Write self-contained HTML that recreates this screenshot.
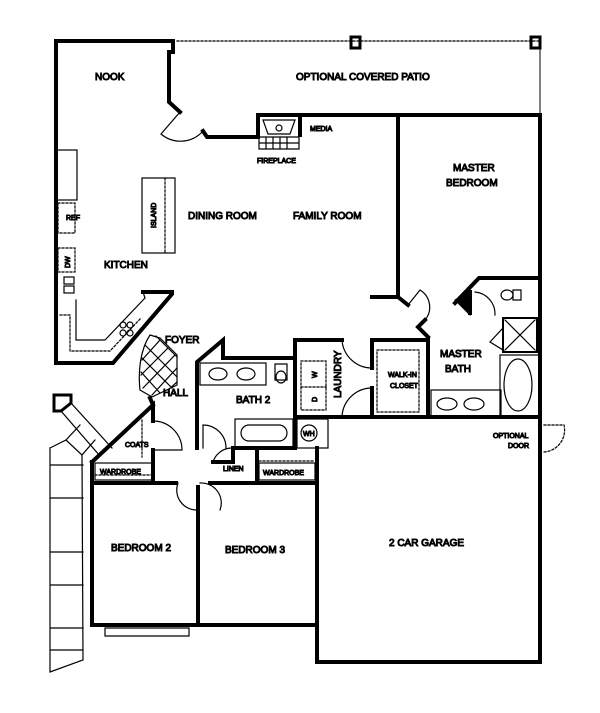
<!DOCTYPE html>
<html><head><meta charset="utf-8"><style>
html,body{margin:0;padding:0;background:#fff;}
svg{display:block;}
text{font-family:"Liberation Sans",sans-serif;font-size:10px;fill:#111;}
.s{font-size:7px;}
</style></head><body>
<svg width="600" height="713" viewBox="0 0 600 713" xmlns="http://www.w3.org/2000/svg">
<g fill="none" stroke="#000" stroke-linecap="square">
<!-- patio -->
<line x1="177" y1="41" x2="540" y2="41" stroke-width="1.2" stroke-dasharray="2,2"/>
<line x1="540" y1="41" x2="540" y2="115" stroke-width="1"/>
<rect x="351" y="37" width="9" height="11" stroke-width="3"/>
<rect x="531" y="37" width="9" height="11" stroke-width="3"/>
<!-- outer walls -->
<g stroke-width="4">
<polyline points="173,52 173,41 56,41 56,363 113,363 172,294 172,292 143,292"/>
<polyline points="169,52 169,102 180,112"/>
<polyline points="203,131 207,137 258,137 258,115 300,115 300,137 300,115 540,115 540,662 317,662 317,448"/>
<polyline points="398,115 398,297 372,297"/>
<polyline points="398,297 408,305"/>
<polyline points="92,462 92,625 317,625"/>
<line x1="198" y1="487" x2="198" y2="625"/>
<line x1="92" y1="483" x2="176" y2="483"/>
<line x1="210" y1="483" x2="317" y2="483"/>
<polyline points="92,462 153,405 153,421"/>
<line x1="153" y1="450" x2="153" y2="483"/>
<polyline points="153,405 150,398"/>
<polyline points="197,448 197,362 223,340 223,358 295,358"/>
<polyline points="295,340 295,448 233,448 233,462 213,462"/>
<line x1="257" y1="448" x2="257" y2="483"/>
<line x1="295" y1="340" x2="342" y2="340"/>
<line x1="295" y1="417" x2="540" y2="417"/>
<polyline points="372,388 372,417"/>
<polyline points="372,368 372,340 428,340 428,417"/>
<polyline points="428,337 418,327 425,320"/>
<polyline points="540,278 479,278 455,303"/>
<polyline points="470,292 470,313"/>
</g>
<path d="M455,300 L470,290 L470,315 Z" fill="#000" stroke-width="1"/>
<!-- fixtures -->
<g stroke-width="1.2">
<path d="M263,120 L295,120 L290,134 L268,134 Z"/>
<circle cx="279" cy="128" r="3"/>
<path d="M259,137 h40 v12 h-40 z M266,137 v12 M273,137 v12 M280,137 v12 M287,137 v12 M259,143 h40"/>
<rect x="142" y="178" width="33" height="75"/>
<line x1="165" y1="178" x2="165" y2="253" stroke-dasharray="2,2"/>
<rect x="56" y="150" width="21" height="50"/>
<rect x="58" y="203" width="17" height="30" stroke-dasharray="2,2"/>
<rect x="58" y="248" width="17" height="24" stroke-dasharray="2,2"/>
<rect x="64" y="277" width="10" height="7"/><rect x="64" y="286" width="10" height="7"/>
<polyline points="60,315 70,315 70,351 110,351 141,318" stroke-dasharray="2,2"/>
<polyline points="76,300 76,340 105,340 145,298 143,292"/>
<circle cx="123" cy="325" r="3"/><circle cx="130" cy="325" r="3"/><circle cx="123" cy="333" r="3"/><circle cx="130" cy="333" r="3"/>
<path d="M150,335 L160,338 L177,355 L177,385 L152,397 L140,390 C138,372 140,350 150,335 Z"/>
<path d="M145,345 L177,377 M142,358 L172,388 M141,372 L160,393 M156,336 L177,357 M160,340 L142,360 M168,348 L141,375 M175,355 L143,388 M177,368 L152,395 M177,382 L168,390" />
<path d="M180,112 L161,134 A30,30 0 0 0 203,131"/>
<path d="M408,305 L420,290 A20,20 0 0 1 425,320"/>
<rect x="200" y="363" width="66" height="22"/>
<ellipse cx="218" cy="374" rx="9" ry="6"/><ellipse cx="246" cy="374" rx="9" ry="6"/>
<path d="M275,364 h12 v16 h-12 z"/><ellipse cx="281" cy="377" rx="5" ry="6"/>
<rect x="235" y="419" width="58" height="28"/>
<rect x="241" y="425" width="46" height="16" rx="8"/>
<rect x="297" y="419" width="31" height="29"/><circle cx="309" cy="433" r="8"/>
<rect x="301" y="361" width="25" height="49" stroke-dasharray="2,2"/>
<line x1="301" y1="387" x2="326" y2="387" stroke-dasharray="2,2"/>
<path d="M342,340 A30,30 0 0 0 372,368 M342,417 A30,30 0 0 1 372,388"/>
<rect x="377" y="350" width="42" height="62" stroke-dasharray="2,2"/>
<rect x="431" y="390" width="70" height="27"/>
<ellipse cx="447" cy="404" rx="10" ry="6"/><ellipse cx="474" cy="404" rx="10" ry="6"/>
<rect x="500" y="355" width="40" height="62"/><ellipse cx="518" cy="385" rx="14" ry="26"/>
<rect x="503" y="318" width="34" height="34" stroke-width="2"/>
<path d="M505,320 L535,350 M535,320 L505,350"/>
<path d="M503,328 L490,342 L503,350"/>
<path d="M513,290 h8 v10 h-8 z"/><ellipse cx="507" cy="295" rx="6" ry="5"/>
<path d="M475,292 A22,22 0 0 1 495,315"/>
<path d="M153,450 h29 A29,29 0 0 0 153,421"/>
<line x1="142" y1="420" x2="142" y2="457" stroke-dasharray="2,2"/>
<rect x="95" y="463" width="59" height="17"/>
<line x1="95" y1="475" x2="154" y2="475" stroke-dasharray="2,2"/>
<rect x="259" y="463" width="56" height="17"/>
<line x1="259" y1="461" x2="315" y2="461" stroke-dasharray="2,2"/>
<path d="M213,462 A20,20 0 0 1 231,448"/>
<path d="M203,425 L203,448 M203,425 A23,23 0 0 1 226,448"/>
<path d="M178,483 A20,20 0 0 0 196,510 M200,483 A20,20 0 0 1 220,510"/>
<path d="M105,628 h84 v8 h-84 z"/>
<path d="M544,425 h20 M564,425 A22,22 0 0 1 544,452" stroke-dasharray="2,2"/>
<!-- porch -->
<path d="M54,395 h17 v8 l-10,8 h-7 z" stroke-width="3"/>
<path d="M71,403 L112,448 M61,411 L100,456 M80,425 L66,440 M95,440 L82,455"/>
<path d="M50,448 L66,440 L82,455 L83,660 L50,672 L50,448 M50,465 h33 M50,498 h33 M50,552 h33 M50,585 h33 M50,628 h33 M50,650 h33"/>
</g>
<g>
<text x="95" y="80">NOOK</text>
<text x="296" y="80">OPTIONAL COVERED PATIO</text>
<text x="310" y="131" class="s">MEDIA</text>
<text x="257" y="163" class="s">FIREPLACE</text>
<text x="453" y="171">MASTER</text>
<text x="446" y="186">BEDROOM</text>
<text x="188" y="219">DINING ROOM</text>
<text x="293" y="219">FAMILY ROOM</text>
<text x="104" y="268">KITCHEN</text>
<text x="0" y="0" class="s" transform="translate(156,228) rotate(-90)">ISLAND</text>
<text x="66" y="220" class="s">REF</text>
<text x="0" y="0" class="s" transform="translate(70,268) rotate(-90)">DW</text>
<text x="165" y="343">FOYER</text>
<text x="163" y="396">HALL</text>
<text x="236" y="403">BATH 2</text>
<text x="440" y="357">MASTER</text>
<text x="445" y="372">BATH</text>
<text x="388" y="377" class="s">WALK-IN</text>
<text x="390" y="388" class="s">CLOSET</text>
<text x="0" y="0" transform="translate(341,398) rotate(-90)">LAUNDRY</text>
<text x="0" y="0" class="s" transform="translate(317,378) rotate(-90)">W</text>
<text x="0" y="0" class="s" transform="translate(317,402) rotate(-90)">D</text>
<text x="303" y="436" class="s">WH</text>
<text x="125" y="447" class="s">COATS</text>
<text x="100" y="474" class="s">WARDROBE</text>
<text x="223" y="471" class="s">LINEN</text>
<text x="263" y="475" class="s">WARDROBE</text>
<text x="111" y="551">BEDROOM 2</text>
<text x="225" y="553">BEDROOM 3</text>
<text x="389" y="546">2 CAR GARAGE</text>
<text x="493" y="438" class="s">OPTIONAL</text>
<text x="508" y="448" class="s">DOOR</text>
</g>
</svg>
</body></html>
